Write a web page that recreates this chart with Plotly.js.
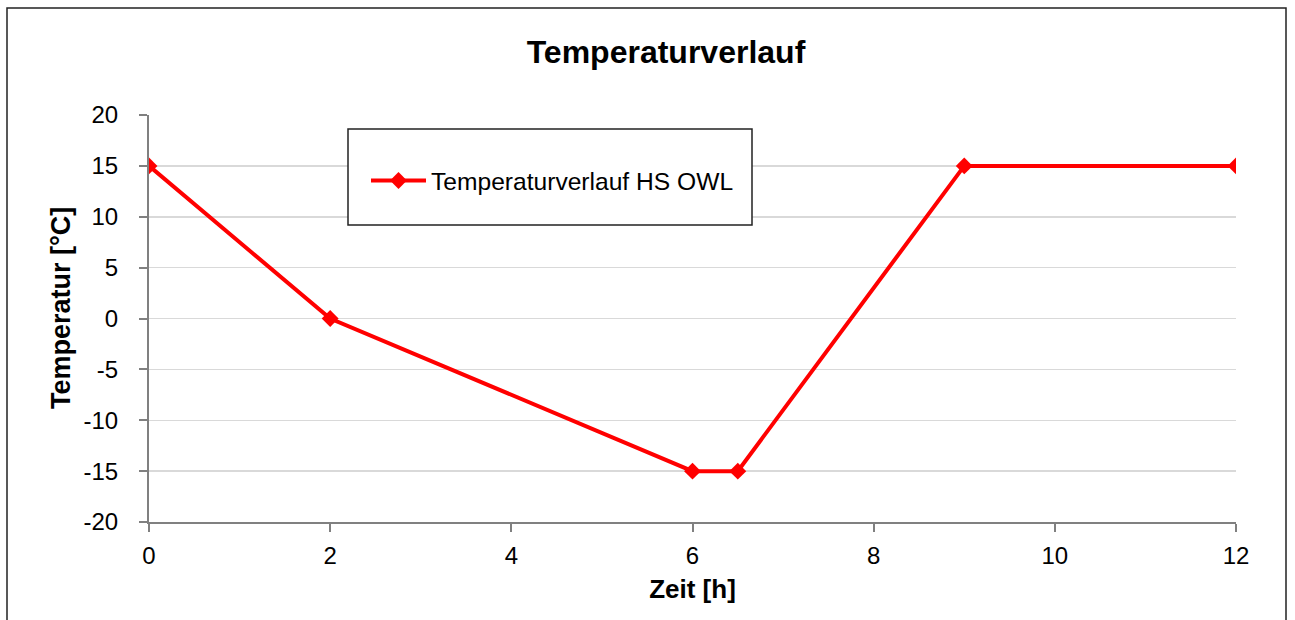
<!DOCTYPE html>
<html><head><meta charset="utf-8">
<script src="https://cdn.plot.ly/plotly-3.0.1.min.js"></script>
<style>html,body{margin:0;padding:0;background:#fff}#chart{width:1295px;height:620px}</style>
</head><body><div id="chart"></div>
<script>
const zeit = [0, 2, 6, 6.5, 9, 12];
const temperatur = [15, 0, -15, -15, 15, 15];
const seriesName = 'Temperaturverlauf HS OWL';
const chartTitle = 'Temperaturverlauf';
const xTitle = 'Zeit [h]';
const yTitle = 'Temperatur [°C]';
const yTickVals = [-20, -15, -10, -5, 0, 5, 10, 15, 20];
const yTickText = ['-20', '-15', '-10', '-5', '0', '5', '10', '15', '20'];
const xTickVals = [0, 2, 4, 6, 8, 10, 12];
const xTickText = ['0', '2', '4', '6', '8', '10', '12'];

const FONT = 'Arial, "Liberation Sans", sans-serif';
const W = 1295, H = 620;
const L = 149, R = 1236, T = 115, B = 522;
const pw = R - L, ph = B - T;
const px = v => (v - L) / pw;
const py = v => (B - v) / ph;

const trace = {
  x: zeit, y: temperatur, type: 'scatter', mode: 'lines+markers', name: seriesName,
  line: {color: '#ff0000', width: 4},
  marker: {symbol: 'diamond', size: 13, color: '#ff0000'}
};

const layout = {
  width: W, height: H,
  margin: {l: L, r: W - R, t: T, b: H - B, pad: 0},
  paper_bgcolor: '#ffffff', plot_bgcolor: '#ffffff',
  font: {family: FONT, color: '#000000', size: 24},
  title: {text: '<b>' + chartTitle + '</b>', font: {family: FONT, size: 32, color: '#000'},
          x: 666 / W, xref: 'container', xanchor: 'center', y: 1 - 52 / H, yref: 'container', yanchor: 'middle'},
  showlegend: true,
  legend: {x: px(366), y: py(158), xanchor: 'left', yanchor: 'top', bgcolor: 'rgba(0,0,0,0)',
           borderwidth: 0, font: {family: FONT, size: 24.6, color: '#000'}, itemwidth: 55},
  xaxis: {range: [0, 12], tickmode: 'array', tickvals: xTickVals, ticktext: xTickText,
          showgrid: false, zeroline: false,
          showline: true, linecolor: '#808080', linewidth: 2,
          ticks: 'outside', ticklen: 8, tickcolor: '#808080', tickwidth: 2,
          tickfont: {family: FONT, size: 24, color: '#000'}, ticklabelstandoff: 3,
          title: {text: '<b>' + xTitle + '</b>', font: {family: FONT, size: 26, color: '#000'}, standoff: 12},
          fixedrange: true},
  yaxis: {range: [-20, 20], tickmode: 'array', tickvals: yTickVals, ticktext: yTickText,
          showgrid: true, gridcolor: '#d9d9d9', gridwidth: 1.5,
          zeroline: false, showline: true, linecolor: '#808080', linewidth: 2,
          ticks: 'outside', ticklen: 8, tickcolor: '#808080', tickwidth: 2,
          tickfont: {family: FONT, size: 24, color: '#000'}, ticklabelstandoff: 16,
          fixedrange: true},
  annotations: [
    {text: '<b>' + yTitle + '</b>', xref: 'paper', yref: 'paper', x: px(61), y: py(308),
     xanchor: 'center', yanchor: 'middle', textangle: -90, showarrow: false,
     font: {family: FONT, size: 27, color: '#000'}}
  ],
  shapes: [
    {type: 'rect', xref: 'paper', yref: 'paper', x0: px(7), x1: px(1286), y0: py(640), y1: py(8),
     line: {color: '#222222', width: 1.5}, fillcolor: 'rgba(0,0,0,0)', layer: 'below'},
    {type: 'rect', xref: 'paper', yref: 'paper', x0: px(348), x1: px(752), y0: py(225), y1: py(129),
     line: {color: '#222222', width: 1.5}, fillcolor: '#ffffff', layer: 'above'}
  ]
};

Plotly.newPlot('chart', [trace], layout, {displayModeBar: false, staticPlot: true});
</script></body></html>
